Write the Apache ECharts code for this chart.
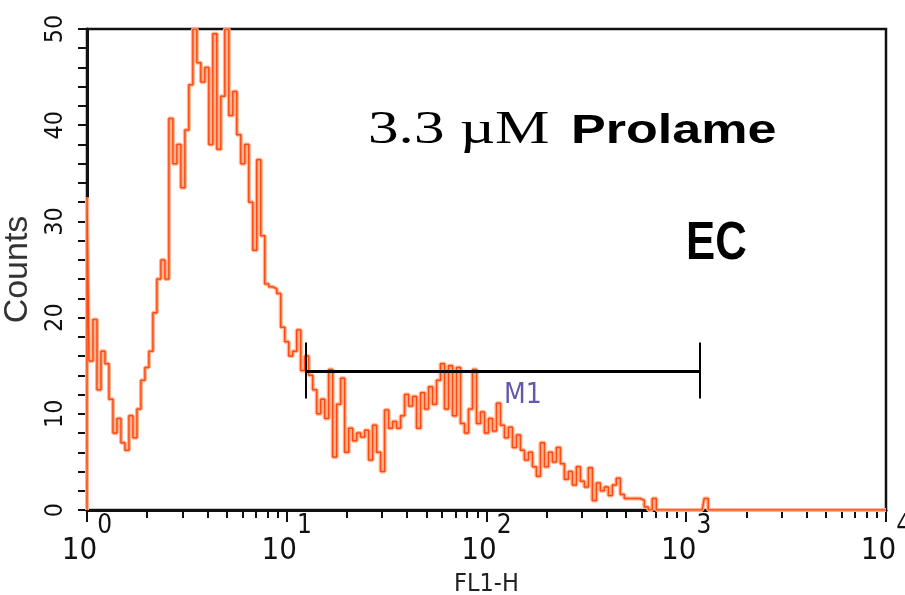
<!DOCTYPE html>
<html>
<head>
<meta charset="utf-8">
<script src="https://cdn.jsdelivr.net/npm/echarts@6/dist/echarts.min.js"></script>
<style>
  html, body { margin: 0; padding: 0; background: #fff; }
  #chart { width: 905px; height: 595px; }
</style>
</head>
<body>
<div id="chart"></div>
<script>
// Histogram channels: position in decades (log10 of FL1-H) and event count.
// The first pair draws the rise at the 10^0 edge.
const fl1Log = [
  0, 0.00, 0.02, 0.04, 0.06, 0.08, 0.10, 0.12, 0.14, 0.16, 0.18,
  0.20, 0.22, 0.24, 0.26, 0.28, 0.30, 0.32, 0.34, 0.36, 0.38,
  0.40, 0.42, 0.44, 0.46, 0.48, 0.50, 0.52, 0.54, 0.56, 0.58,
  0.60, 0.62, 0.64, 0.66, 0.68, 0.70, 0.72, 0.74, 0.76, 0.78,
  0.80, 0.82, 0.84, 0.86, 0.88, 0.90, 0.92, 0.94, 0.96, 0.98,
  1.00, 1.02, 1.04, 1.06, 1.08, 1.10, 1.12, 1.14, 1.16, 1.18,
  1.20, 1.22, 1.24, 1.26, 1.28, 1.30, 1.32, 1.34, 1.36, 1.38,
  1.40, 1.42, 1.44, 1.46, 1.48, 1.50, 1.52, 1.54, 1.56, 1.58,
  1.60, 1.62, 1.64, 1.66, 1.68, 1.70, 1.72, 1.74, 1.76, 1.78,
  1.80, 1.82, 1.84, 1.86, 1.88, 1.90, 1.92, 1.94, 1.96, 1.98,
  2.00, 2.02, 2.04, 2.06, 2.08, 2.10, 2.12, 2.14, 2.16, 2.18,
  2.20, 2.22, 2.24, 2.26, 2.28, 2.30, 2.32, 2.34, 2.36, 2.38,
  2.40, 2.42, 2.44, 2.46, 2.48, 2.50, 2.52, 2.54, 2.56, 2.58,
  2.60, 2.62, 2.64, 2.66, 2.68, 2.70, 2.72, 2.74, 2.76, 2.78,
  2.80, 2.82, 2.84, 2.86,
  3.08, 3.10, 3.12, 4.00
];
const counts = [
  0, 32.5, 15.5, 19.8, 12.5, 16.5, 15.2, 11.5, 8.0, 9.5, 7.0,
  6.2, 9.8, 7.5, 10.5, 13.5, 14.8, 16.5, 20.5, 24.0, 26.0,
  24.0, 40.7, 36.0, 38.0, 33.5, 39.5, 44.2, 50, 46.5, 44.5,
  46.0, 38.0, 49.5, 37.5, 43.0, 50, 41.0, 43.5, 39.0, 36.0,
  38.0, 32.0, 27.0, 36.4, 28.5, 23.5, 23.2, 23.0, 22.5, 19.0,
  17.5, 16.0, 16.5, 18.7, 14.5, 16.0, 14.0, 12.5, 10.0, 11.5,
  9.5, 14.6, 5.5, 11.0, 13.7, 6.0, 8.5, 7.2, 8.0, 7.6,
  8.3, 5.2, 8.8, 6.0, 4.0, 10.4, 8.5, 9.2, 8.5, 9.8,
  12.0, 10.8, 11.8, 8.5, 12.2, 10.5, 12.8, 11.0, 13.5, 15.2,
  10.5, 15.0, 9.8, 14.8, 9.0, 8.0, 10.5, 14.6, 9.0, 10.2,
  8.0, 9.5, 8.2, 11.1, 8.8, 7.5, 8.6, 6.5, 7.8, 6.2,
  5.2, 6.0, 4.5, 3.5, 7.0, 4.5, 6.0, 5.0, 6.5, 4.8,
  3.2, 4.0, 2.6, 4.5, 3.0, 2.4, 4.4, 1.0, 2.8, 2.0,
  2.4, 1.5, 2.6, 3.3, 1.6, 1.2, 1.2, 1.2, 1.2, 1.0,
  0.3, 0, 1.2, 0,
  0, 1.2, 0, 0
];

const decadeTicks = [1, 10, 100, 1000, 10000];
const minorTicks = [
  2, 3, 4, 5, 6, 7, 8, 9,
  20, 30, 40, 50, 60, 70, 80, 90,
  200, 300, 400, 500, 600, 700, 800, 900,
  2000, 3000, 4000, 5000, 6000, 7000, 8000, 9000
];

// M1 gate marker (FL1-H range, count level, end bar span) and its label
const gateRange = [12.5, 1165];
const gateLevel = 14.4;
const gateBar = [11.6, 17.4];
const gateLabelAt = [152, 11.9];

const histData = fl1Log.map((d, i) => [Math.pow(10, d), counts[i]]);

const chart = echarts.init(document.getElementById('chart'));
const NARROW = '"DejaVu Sans Condensed", "Liberation Sans", Arial, sans-serif';

chart.setOption({
  animation: false,
  backgroundColor: '#fff',
  grid: {
    left: 87, right: 19, top: 29, bottom: 85,
    containLabel: false, outerBoundsMode: 'none',
    show: true, borderColor: '#111', borderWidth: 2.5
  },
  xAxis: [
    {
      type: 'log', logBase: 10, min: 1, max: 10000,
      name: 'FL1-H', nameLocation: 'middle', nameGap: 62,
      nameTextStyle: { fontFamily: NARROW, fontSize: 25, color: '#222' },
      axisLine: { lineStyle: { color: '#111', width: 3 } },
      axisTick: { customValues: decadeTicks, length: 12, lineStyle: { color: '#111', width: 2 } },
      axisLabel: {
        customValues: decadeTicks,
        margin: 3,
        formatter: v => `{b|10}{e|${Math.round(Math.log10(v))}}`,
        rich: {
          b: { fontFamily: NARROW, fontSize: 31, color: '#111' },
          e: { fontFamily: NARROW, fontSize: 26, color: '#111', padding: [0, 0, 50, 0] }
        }
      },
      splitLine: { show: false }
    },
    {
      type: 'log', logBase: 10, min: 1, max: 10000, position: 'bottom',
      axisLine: { show: false },
      axisTick: { customValues: minorTicks, length: 8, lineStyle: { color: '#111', width: 2 } },
      axisLabel: { show: false },
      splitLine: { show: false }
    }
  ],
  yAxis: {
    type: 'value', min: 0, max: 50, interval: 10,
    name: 'Counts', nameLocation: 'middle', nameGap: 30,
    nameTextStyle: { fontFamily: '"Liberation Sans", Arial, sans-serif', fontSize: 34, color: '#333' },
    axisLine: { show: true, lineStyle: { color: '#111', width: 3 } },
    axisTick: { length: 9, lineStyle: { color: '#111', width: 2 } },
    minorTick: { show: true, splitNumber: 5, length: 9, lineStyle: { color: '#111', width: 2 } },
    axisLabel: { rotate: 90, margin: 19, fontFamily: NARROW, fontSize: 25, color: '#111' },
    splitLine: { show: false }
  },
  series: [
    {
      type: 'line', step: 'middle', data: histData, showSymbol: false,
      lineStyle: { color: '#ffb38f', width: 4 }, silent: true, z: 2
    },
    {
      type: 'line', step: 'middle', data: histData, showSymbol: false,
      lineStyle: { color: '#ff4a14', width: 1.5 }, silent: true, z: 3,
      markLine: {
        silent: true, symbol: ['none', 'none'], label: { show: false },
        lineStyle: { color: '#000', width: 3, type: 'solid' },
        data: [
          [{ coord: [gateRange[0], gateLevel] }, { coord: [gateRange[1], gateLevel] }],
          [{ coord: [gateRange[0], gateBar[0]] }, { coord: [gateRange[0], gateBar[1]], lineStyle: { width: 2 } }],
          [{ coord: [gateRange[1], gateBar[0]] }, { coord: [gateRange[1], gateBar[1]], lineStyle: { width: 2 } }]
        ]
      }
    },
    {
      type: 'scatter', data: [gateLabelAt], symbolSize: 1,
      itemStyle: { color: 'rgba(0,0,0,0)' }, silent: true, z: 4,
      label: {
        show: true, position: 'inside', formatter: 'M1',
        fontFamily: NARROW, fontSize: 28, color: '#3d2f92'
      }
    }
  ],
  graphic: [
    {
      type: 'text', x: 368, y: 131, scaleX: 1.33,
      style: { text: '3.3 µM', font: '46px "Liberation Serif", "Times New Roman", serif', fill: '#000', verticalAlign: 'middle' }
    },
    {
      type: 'text', x: 571, y: 132, scaleX: 1.27,
      style: { text: 'Prolame', font: 'bold 41px "Liberation Sans", Arial, sans-serif', fill: '#000', verticalAlign: 'middle' }
    },
    {
      type: 'text', x: 686, y: 244, scaleX: 0.81,
      style: { text: 'EC', font: 'bold 54px "Liberation Sans", Arial, sans-serif', fill: '#000', verticalAlign: 'middle' }
    }
  ]
});
</script>
</body>
</html>
